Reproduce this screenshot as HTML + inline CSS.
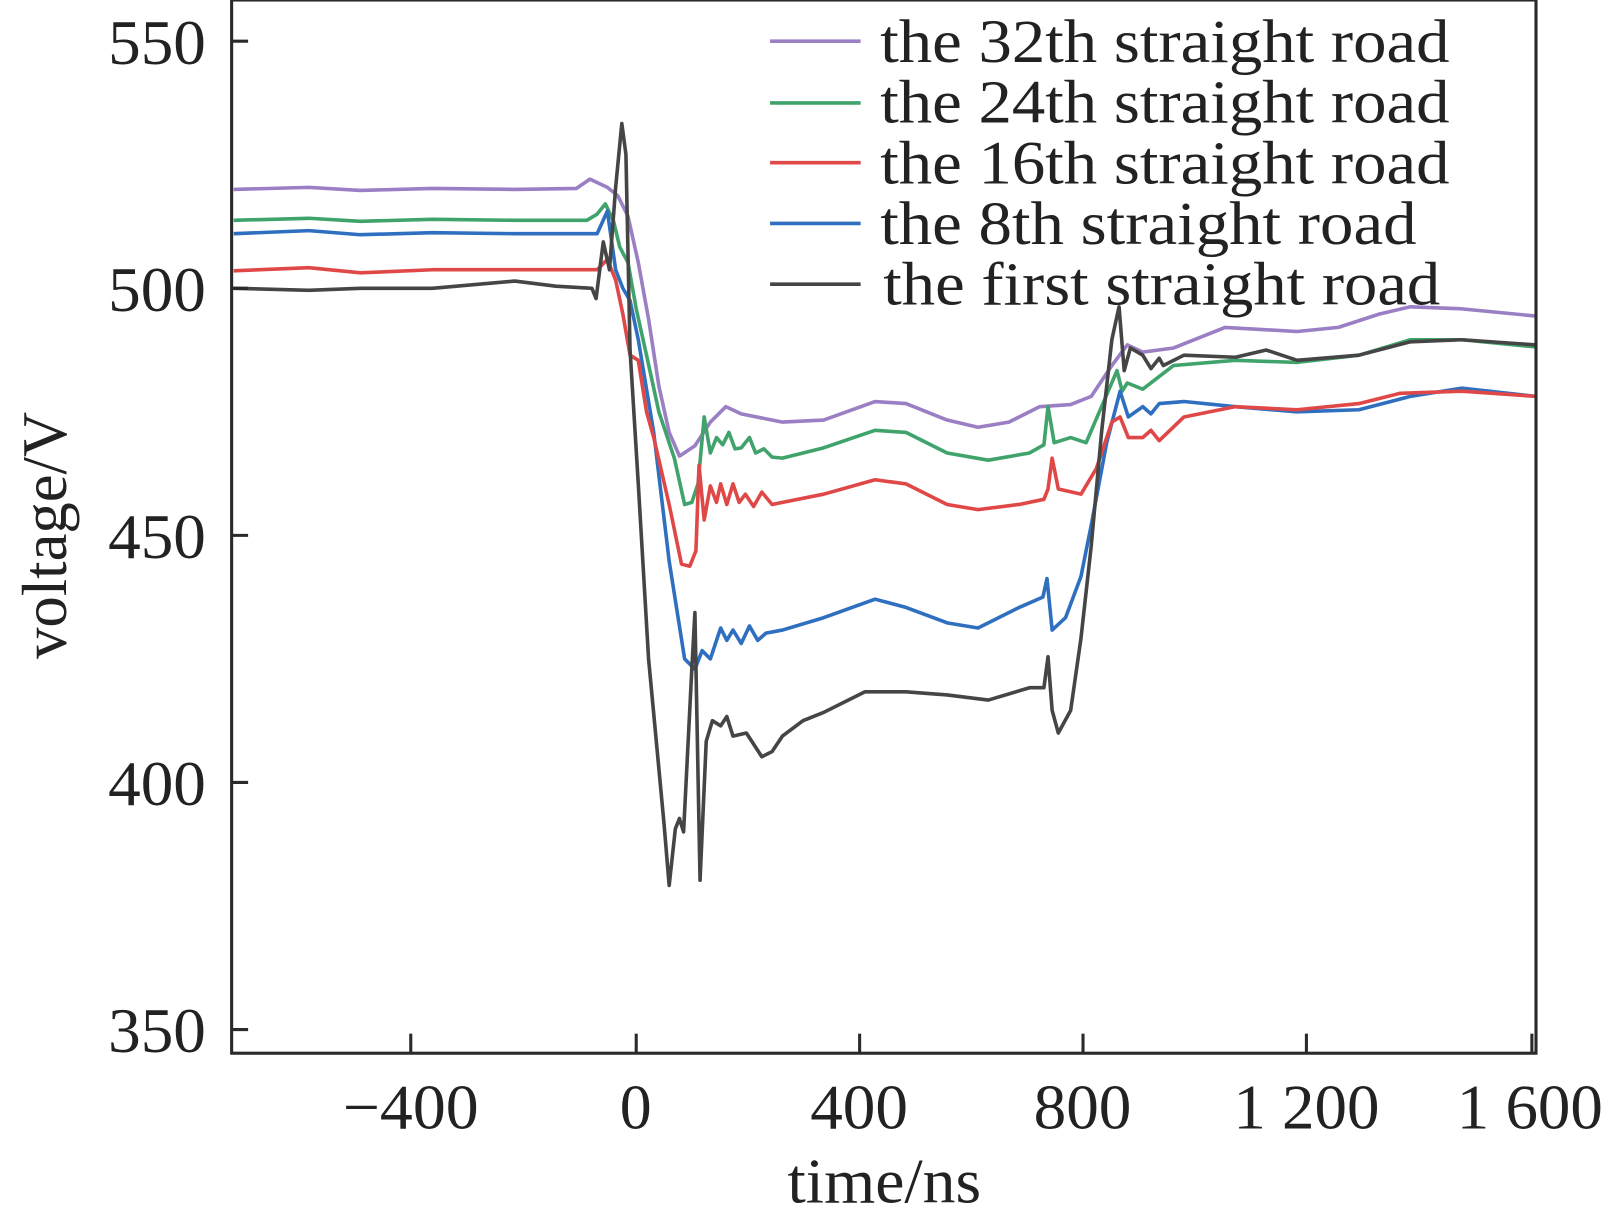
<!DOCTYPE html>
<html><head><meta charset="utf-8"><style>
html,body{margin:0;padding:0;background:#fff;}
svg{display:block;}
text{font-family:"Liberation Serif",serif;fill:#222;}
</style></head><body>
<svg width="1606" height="1220" viewBox="0 0 1560 1185" preserveAspectRatio="none" xmlns="http://www.w3.org/2000/svg">
<g fill="none" stroke-width="3.5" stroke-linejoin="round">
<polyline stroke="#9b7fc4" points="227,184 300,182 350,185 420,183 500,184 560,183 573,174 590,182 600,190 610,210 620,255 630,310 640,375 650,420 660,443 675,433 690,410 705,395 720,402 760,410 800,408 850,390 880,392 920,408 950,415 980,410 1010,395 1040,393 1060,385 1080,355 1095,335 1110,342 1140,338 1190,318 1260,322 1300,318 1340,305 1370,298 1420,300 1492,307"/>
<polyline stroke="#3fa36b" points="227,214 300,212 350,215 420,213 500,214 570,214 580,208 588,198 596,215 602,240 610,255 618,300 628,345 640,400 655,445 665,490 672,488 678,470 684,405 690,440 696,425 702,432 708,420 714,436 720,435 728,425 734,440 742,436 750,444 760,445 780,440 800,435 850,418 880,420 920,440 960,447 1000,440 1014,432 1018,395 1024,430 1040,425 1055,430 1070,395 1085,360 1090,380 1095,372 1110,378 1140,355 1200,350 1260,352 1320,345 1370,330 1420,330 1492,337"/>
<polyline stroke="#2f6fbf" points="227,227 300,224 350,228 420,226 500,227 580,227 590,205 598,262 605,280 612,292 620,330 635,420 650,545 665,640 675,650 682,632 690,640 700,610 706,622 712,612 720,625 728,608 736,622 744,615 760,612 800,600 850,582 880,590 920,605 950,610 990,590 1013,580 1017,562 1022,612 1035,600 1050,560 1060,510 1075,430 1088,380 1096,405 1110,395 1118,402 1126,392 1150,390 1200,395 1260,400 1320,398 1370,385 1420,377 1492,385"/>
<polyline stroke="#e04848" points="227,263 300,260 350,265 420,262 500,262 580,262 590,252 598,272 605,305 612,345 620,350 628,400 635,425 650,490 662,548 670,550 676,535 679,452 684,505 690,472 696,488 700,470 706,490 712,470 718,488 724,480 732,492 740,478 750,490 760,488 800,480 850,466 880,470 920,490 950,495 990,490 1014,485 1018,475 1022,445 1028,475 1050,480 1065,455 1080,410 1088,405 1096,425 1110,425 1118,418 1126,428 1150,405 1200,395 1260,398 1320,392 1360,382 1420,380 1492,385"/>
<polyline stroke="#454545" points="227,280 300,282 350,280 420,280 500,273 540,278 575,280 579,290 586,235 592,262 598,182 604,120 608,150 612,340 620,470 630,640 645,800 650,860 656,805 660,795 664,808 672,650 675,595 680,855 686,720 692,700 700,705 706,696 712,715 725,712 740,735 750,730 760,715 780,700 800,692 840,672 880,672 920,675 960,680 1000,668 1014,668 1018,638 1022,690 1028,712 1040,690 1050,620 1060,530 1070,420 1080,330 1087,298 1092,360 1098,338 1110,345 1118,358 1126,348 1130,355 1150,345 1200,347 1230,340 1260,350 1320,345 1370,332 1420,330 1492,335"/>
</g>
<g stroke="#2a2a2a" stroke-width="3" fill="none">
<rect x="225" y="0" width="1267" height="1023"/>
<line x1="225" y1="40" x2="241" y2="40"/>
<line x1="225" y1="280" x2="241" y2="280"/>
<line x1="225" y1="520" x2="241" y2="520"/>
<line x1="225" y1="760" x2="241" y2="760"/>
<line x1="225" y1="1000" x2="241" y2="1000"/>
<line x1="399" y1="1023" x2="399" y2="1004"/>
<line x1="618" y1="1023" x2="618" y2="1004"/>
<line x1="835" y1="1023" x2="835" y2="1004"/>
<line x1="1052" y1="1023" x2="1052" y2="1004"/>
<line x1="1269" y1="1023" x2="1269" y2="1004"/>
<line x1="1488" y1="1023" x2="1488" y2="1004"/>
</g>
<g font-size="62">
<text x="105" y="62" textLength="95" lengthAdjust="spacingAndGlyphs">550</text>
<text x="105" y="302" textLength="95" lengthAdjust="spacingAndGlyphs">500</text>
<text x="105" y="542" textLength="95" lengthAdjust="spacingAndGlyphs">450</text>
<text x="105" y="782" textLength="95" lengthAdjust="spacingAndGlyphs">400</text>
<text x="105" y="1022" textLength="95" lengthAdjust="spacingAndGlyphs">350</text>
<text x="333" y="1096" textLength="132" lengthAdjust="spacingAndGlyphs">−400</text>
<text x="602" y="1096">0</text>
<text x="787" y="1096" textLength="95" lengthAdjust="spacingAndGlyphs">400</text>
<text x="1004" y="1096" textLength="95" lengthAdjust="spacingAndGlyphs">800</text>
<text x="1198" y="1096" textLength="142" lengthAdjust="spacingAndGlyphs">1 200</text>
<text x="1415" y="1096" textLength="142" lengthAdjust="spacingAndGlyphs">1 600</text>
<text x="765" y="1168" textLength="188" lengthAdjust="spacingAndGlyphs">time/ns</text>
<text transform="translate(64,640) rotate(-90)" textLength="240" lengthAdjust="spacingAndGlyphs">voltage/V</text>
</g>
<g stroke-width="3.5">
<line x1="748" y1="40" x2="836" y2="40" stroke="#9b7fc4"/>
<line x1="748" y1="100" x2="836" y2="100" stroke="#3fa36b"/>
<line x1="748" y1="158" x2="836" y2="158" stroke="#e04848"/>
<line x1="748" y1="217" x2="836" y2="217" stroke="#2f6fbf"/>
<line x1="748" y1="276" x2="836" y2="276" stroke="#454545"/>
</g>
<g font-size="60">
<text x="855" y="60" textLength="553" lengthAdjust="spacingAndGlyphs">the 32th straight road</text>
<text x="855" y="119" textLength="553" lengthAdjust="spacingAndGlyphs">the 24th straight road</text>
<text x="855" y="178" textLength="553" lengthAdjust="spacingAndGlyphs">the 16th straight road</text>
<text x="855" y="237" textLength="521" lengthAdjust="spacingAndGlyphs">the 8th straight road</text>
<text x="858" y="296" textLength="541" lengthAdjust="spacingAndGlyphs">the first straight road</text>
</g>
</svg>
</body></html>
